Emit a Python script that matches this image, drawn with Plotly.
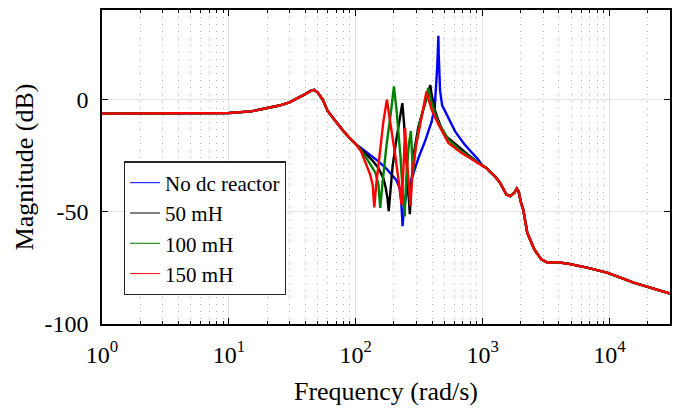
import math
import plotly.graph_objects as go

# ---- data ----
freq_low = [1, 2, 5, 10, 15, 20, 25, 30, 35, 40, 44, 47, 50, 55, 60, 70, 80, 90, 100]
mag_low = [-6.2, -6.2, -6.1, -5.9, -5.2, -3.9, -2.6, -1.2, 0.6, 2.5, 3.9, 4.4, 3.3, 0.0,
           -5.0, -10.0, -14.0, -17.2, -19.8]

freq_high = [1000, 1070, 1165, 1248, 1370, 1415, 1540, 1650, 1780, 1860, 1920, 2000, 2090,
             2250, 2560, 2900, 3270, 3840, 4600, 6650, 9700, 15500, 30000]
mag_high = [-29.5, -30.4, -32.6, -34.1, -37.0, -38.6, -42.3, -43.0, -41.5, -39.6, -40.8,
            -45.5, -49.0, -59.4, -66.8, -71.2, -72.7, -72.4, -73.0, -74.9, -77.2, -81.6, -86.4]

freq_none = [110, 126, 151, 175, 193, 210, 222, 228, 232, 234, 237, 242, 252, 270, 292, 312,
             352, 397, 420, 430, 438, 444, 448, 451, 456, 462, 480, 507, 540, 607, 680, 722,
             820, 920]
mag_none = [-21.5, -24.0, -27.5, -30.8, -33.4, -36.0, -39.5, -45.0, -52.0, -56.4, -52.0,
            -47.0, -42.0, -37.0, -31.0, -26.0, -18.5, -9.7, -3.0, 5.0, 14.0, 22.0, 28.5,
            20.0, 10.0, 4.0, -2.5, -5.2, -9.0, -14.1, -18.0, -20.0, -23.5, -26.5]

freq_50 = [110, 126, 134, 151, 165, 172, 178, 182, 186, 195, 210, 225, 233, 240, 250, 260,
           267, 273, 285, 312, 340, 365, 380, 387, 395, 420, 450, 472, 520, 607, 680, 769, 900]
mag_50 = [-22.0, -25.5, -26.8, -30.5, -35.0, -39.0, -44.0, -49.7, -43.0, -30.0, -17.0, -7.0,
          -1.5, -10.0, -25.0, -40.0, -51.0, -40.0, -25.0, -12.0, -5.0, 1.0, 4.5, 6.5, 3.0,
          -4.5, -9.5, -12.5, -16.5, -19.8, -22.3, -24.5, -27.5]

freq_100 = [110, 126, 143, 151, 156, 162, 175, 190, 200, 210, 225, 235, 243, 250, 262, 272,
            278, 283, 295, 320, 350, 373, 395, 420, 450, 540, 680, 920]
mag_100 = [-22.3, -27.5, -32.6, -38.0, -48.2, -38.0, -20.0, -5.0, 5.9, -5.0, -25.0, -42.0,
           -52.0, -35.0, -20.0, -14.0, -25.0, -33.0, -22.0, -10.0, -2.0, 5.2, -1.0, -6.0,
           -10.3, -18.0, -23.0, -28.0]

freq_150 = [110, 119, 130, 136, 140, 145, 155, 165, 176, 190, 205, 220, 230, 238, 245, 252,
            262, 270, 280, 300, 320, 340, 361, 375, 400, 450, 537, 680, 920]
mag_150 = [-23.0, -27.5, -33.4, -38.0, -48.0, -38.0, -22.0, -10.0, 0.0, -12.0, -25.0, -38.0,
           -46.8, -30.0, -12.6, -25.0, -40.0, -47.5, -32.0, -20.0, -12.0, -4.0, 3.7, 0.0,
           -5.0, -11.1, -19.3, -23.7, -28.5]

series_names = ["No dc reactor", "50 mH", "100 mH", "150 mH"]
series_colors = ["#0000ff", "#000000", "#008000", "#ff0000"]
series_freq = [freq_none, freq_50, freq_100, freq_150]
series_mag = [mag_none, mag_50, mag_100, mag_150]

x_tickvals = [1, 10, 100, 1000, 10000]
x_ticktext = ["10<sup>0</sup>", "10<sup>1</sup>", "10<sup>2</sup>", "10<sup>3</sup>", "10<sup>4</sup>"]
y_tickvals = [-100, -50, 0]
y_ticktext = ["-100", "-50", "0"]

FONT = "Liberation Serif"

fig = go.Figure()
for name, color, fr, mg in zip(series_names, series_colors, series_freq, series_mag):
    fig.add_trace(go.Scatter(
        x=freq_low + fr + freq_high, y=mag_low + mg + mag_high,
        mode="lines", line=dict(color=color, width=2.4), showlegend=False,
        hoverinfo="skip"))
# legend entries with thin swatches
for name, color in zip(series_names, series_colors):
    fig.add_trace(go.Scatter(x=[None], y=[None], mode="lines", name=name,
                             line=dict(color=color, width=1)))

minor_vals = [m * 10 ** d for d in range(0, 5) for m in range(2, 10) if m * 10 ** d <= 30000]

fig.update_layout(
    width=678, height=408,
    margin=dict(l=102, r=6, t=10, b=84),
    paper_bgcolor="white", plot_bgcolor="white",
    font=dict(family=FONT, size=24, color="black"),
    showlegend=True,
    legend=dict(x=0.0386, y=0.518, xanchor="left", yanchor="top",
                bgcolor="white", bordercolor="#262626", borderwidth=1.2,
                font=dict(family=FONT, size=21, color="black"),
                tracegroupgap=0),
)
fig.update_xaxes(
    type="log", range=[0, math.log10(30000)],
    tickmode="array", tickvals=x_tickvals, ticktext=x_ticktext,
    ticks="inside", ticklen=6, tickwidth=1.2, tickcolor="black",
    showline=True, linecolor="black", linewidth=1.5, mirror="ticks",
    showgrid=True, gridcolor="#e2e2e2", gridwidth=1,
    minor=dict(tickvals=minor_vals, ticks="inside", ticklen=3, tickcolor="black",
               showgrid=True, gridcolor="#b0b0b0", griddash="1px,6px", gridwidth=1),
    tickfont=dict(family=FONT, size=24, color="black"),
    ticklabelstandoff=8,
    title=dict(text="Frequency (rad/s)", font=dict(family=FONT, size=26, color="black"),
               standoff=15),
)
fig.update_yaxes(
    range=[-100, 40],
    tickmode="array", tickvals=y_tickvals, ticktext=y_ticktext,
    ticks="inside", ticklen=6, tickwidth=1.2, tickcolor="black",
    showline=True, linecolor="black", linewidth=1.5, mirror="ticks",
    showgrid=True, gridcolor="#e2e2e2", gridwidth=1, zeroline=False,
    tickfont=dict(family=FONT, size=24, color="black"),
    ticklabelstandoff=7,
    title=dict(text="Magnitude (dB)", font=dict(family=FONT, size=26, color="black"),
               standoff=3),
)

fig.write_html("out.html")
